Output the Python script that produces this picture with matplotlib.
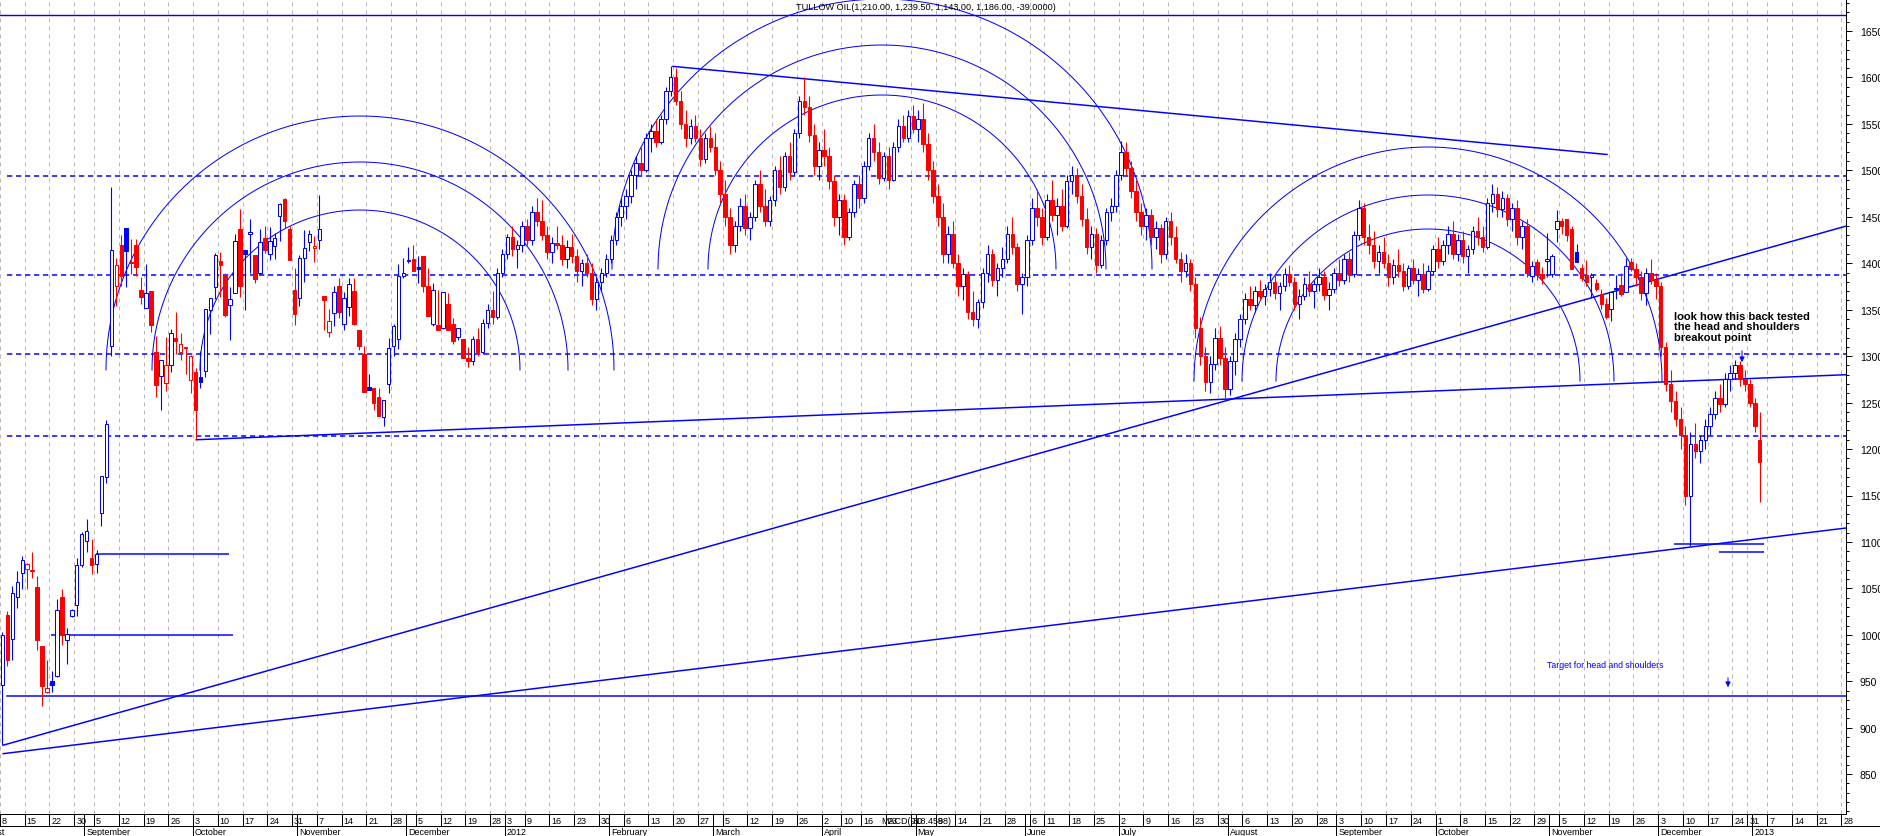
import numpy as np
import pandas as pd
import matplotlib
matplotlib.use("Agg")
import matplotlib.pyplot as plt
from matplotlib.patches import Rectangle
from matplotlib.lines import Line2D
from matplotlib.ticker import MultipleLocator

plt.rcParams['font.family'] = ['Liberation Sans', 'DejaVu Sans']

# ---------------- data (daily OHLC, Tullow Oil, from 8 Aug 2011) ----------------
start_date = '2011-08-08'
uk_holidays = ['2011-08-29', '2011-12-26', '2011-12-27', '2012-01-02', '2012-04-06',
               '2012-04-09', '2012-05-07', '2012-06-04', '2012-06-05', '2012-08-27',
               '2012-12-25', '2012-12-26', '2013-01-01']

opens = [
    946, 1021, 995, 1041, 1067, 1071, 1070, 1052, 988, 939, 950, 956, 1041, 994, 1020, 1032, 1075,   # Aug 11
    1101, 1083, 1076, 1131, 1170, 1311, 1376, 1420, 1438, 1401, 1420, 1371, 1352, 1370, 1305, 1279,
    1271, 1290, 1320, 1304, 1310, 1274,                                                               # Sep
    1283, 1278, 1284, 1350, 1374, 1402, 1387, 1355, 1368, 1437, 1414, 1431, 1409, 1390, 1427, 1410,
    1419, 1451, 1469, 1437, 1371,                                                                     # Oct
    1363, 1406, 1423, 1416, 1425, 1365, 1326, 1346, 1376, 1335, 1353, 1370, 1328, 1302, 1267, 1266,
    1256, 1235, 1270, 1311, 1318, 1386,                                                               # Nov
    1403, 1405, 1396, 1408, 1376, 1335, 1333, 1330, 1356, 1335, 1321, 1318, 1298, 1295, 1318, 1305,
    1336, 1350, 1342, 1390,                                                                           # Dec
    1410, 1428, 1415, 1420, 1440, 1425, 1455, 1445, 1430, 1412, 1422, 1420, 1405, 1418, 1408, 1392,
    1400, 1390, 1362, 1380, 1390,                                                                     # Jan 12
    1405, 1425, 1450, 1462, 1472, 1495, 1508, 1500, 1535, 1542, 1530, 1555, 1585, 1600, 1575, 1550,
    1535, 1548, 1535, 1512, 1535,                                                                     # Feb
    1525, 1500, 1475, 1450, 1420, 1440, 1462, 1438, 1450, 1485, 1462, 1445, 1468, 1500, 1482, 1515,
    1498, 1540, 1575, 1568, 1538, 1505,                                                               # Mar
    1522, 1515, 1488, 1450, 1468, 1428, 1455, 1485, 1470, 1505, 1535, 1520, 1492, 1515, 1490, 1525,
    1548, 1535, 1558,                                                                                 # Apr
    1545, 1555, 1528, 1500, 1472, 1450, 1410, 1432, 1400, 1375, 1388, 1348, 1340, 1358, 1390, 1410,
    1382, 1395, 1405, 1432, 1418, 1378,                                                               # May
    1385, 1425, 1460, 1450, 1428, 1468, 1452, 1462, 1440, 1488, 1495, 1472, 1448, 1418, 1432, 1398,
    1425, 1455, 1462,                                                                                 # Jun
    1495, 1520, 1502, 1478, 1455, 1440, 1452, 1428, 1438, 1410, 1445, 1428, 1405, 1392, 1400, 1378,
    1330, 1300, 1272, 1292, 1320, 1298,                                                               # Jul
    1265, 1295, 1318, 1340, 1362, 1355, 1370, 1365, 1372, 1380, 1368, 1375, 1388, 1380, 1356, 1365,
    1378, 1370, 1378, 1385, 1366, 1372,                                                               # Aug
    1390, 1382, 1405, 1388, 1430, 1460, 1428, 1420, 1402, 1412, 1400, 1385, 1398, 1392, 1375, 1395,
    1382, 1388, 1372, 1392,                                                                           # Sep
    1415, 1402, 1420, 1432, 1410, 1425, 1408, 1415, 1435, 1428, 1418, 1465, 1475, 1458, 1470, 1448,
    1460, 1428, 1440, 1386, 1401, 1388, 1402,                                                         # Oct
    1388, 1437, 1445, 1448, 1437, 1412, 1395, 1387, 1385, 1379, 1367, 1356, 1351, 1372, 1377, 1369,
    1401, 1394, 1385, 1368, 1390, 1382,                                                               # Nov
    1375, 1310, 1270, 1252, 1232, 1215, 1150, 1205, 1198, 1210, 1225, 1238, 1255, 1248, 1275, 1282,
    1290, 1275, 1270,                                                                                 # Dec
    1250, 1210,                                                                                       # Jan 13
]
highs = [
    1003, 1026, 1053, 1069, 1085, 1077, 1089, 1063, 988, 973, 961, 1039, 1049, 1007, 1028, 1083, 1111,
    1125, 1103, 1091, 1171, 1231, 1482, 1406, 1430, 1438, 1426, 1426, 1385, 1399, 1370, 1322, 1296,
    1321, 1329, 1348, 1325, 1310, 1301,
    1287, 1306, 1351, 1363, 1411, 1412, 1390, 1374, 1431, 1458, 1414, 1448, 1409, 1437, 1440, 1439,
    1433, 1465, 1470, 1440, 1395,
    1409, 1436, 1436, 1429, 1473, 1365, 1351, 1375, 1384, 1369, 1384, 1384, 1328, 1311, 1281, 1266,
    1266, 1253, 1319, 1335, 1399, 1406,
    1417, 1420, 1408, 1408, 1395, 1379, 1371, 1369, 1368, 1341, 1330, 1318, 1310, 1322, 1330, 1340,
    1356, 1370, 1395, 1415,
    1432, 1440, 1425, 1445, 1448, 1462, 1470, 1468, 1440, 1428, 1440, 1430, 1425, 1432, 1415, 1405,
    1410, 1400, 1385, 1395, 1410,
    1430, 1455, 1470, 1480, 1500, 1515, 1525, 1540, 1550, 1555, 1560, 1590, 1612, 1610, 1585, 1565,
    1555, 1560, 1545, 1540, 1548,
    1540, 1510, 1490, 1460, 1445, 1470, 1475, 1455, 1490, 1500, 1480, 1472, 1505, 1515, 1520, 1530,
    1545, 1580, 1600, 1580, 1550, 1530,
    1545, 1525, 1495, 1475, 1475, 1460, 1490, 1495, 1510, 1540, 1550, 1530, 1520, 1525, 1530, 1555,
    1560, 1565, 1570,
    1565, 1572, 1540, 1510, 1485, 1465, 1440, 1445, 1410, 1395, 1392, 1370, 1362, 1395, 1420, 1415,
    1400, 1418, 1440, 1450, 1422, 1390,
    1430, 1470, 1480, 1460, 1475, 1490, 1470, 1480, 1495, 1505, 1502, 1485, 1460, 1440, 1438, 1430,
    1460, 1470, 1500,
    1532, 1530, 1510, 1490, 1465, 1460, 1458, 1445, 1442, 1450, 1455, 1440, 1412, 1410, 1405, 1385,
    1342, 1310, 1300, 1330, 1332, 1310,
    1300, 1325, 1345, 1368, 1375, 1375, 1382, 1378, 1390, 1388, 1380, 1395, 1398, 1385, 1372, 1385,
    1392, 1382, 1395, 1392, 1380, 1395,
    1405, 1410, 1412, 1435, 1468, 1465, 1442, 1435, 1420, 1428, 1410, 1405, 1415, 1400, 1398, 1405,
    1395, 1400, 1398, 1420,
    1428, 1425, 1440, 1445, 1432, 1435, 1420, 1440, 1450, 1440, 1470, 1485, 1482, 1478, 1475, 1465,
    1468, 1445, 1448, 1402, 1405, 1396, 1433,
    1410, 1457, 1449, 1448, 1440, 1421, 1399, 1403, 1390, 1383, 1372, 1363, 1370, 1387, 1390, 1406,
    1406, 1400, 1392, 1395, 1405, 1390,
    1380, 1315, 1285, 1262, 1245, 1225, 1218, 1228, 1215, 1232, 1245, 1262, 1270, 1282, 1290, 1296,
    1295, 1285, 1275,
    1255, 1239.5,
]
lows = [
    881, 967, 973, 1029, 1049, 1049, 1061, 984, 923, 937, 939, 955, 989, 969, 1019, 1020, 1073,
    1089, 1065, 1067, 1117, 1163, 1300, 1354, 1376, 1374, 1388, 1386, 1356, 1352, 1326, 1256, 1242,
    1263, 1283, 1302, 1296, 1281, 1260,
    1210, 1266, 1278, 1324, 1362, 1364, 1342, 1317, 1368, 1364, 1350, 1390, 1379, 1387, 1411, 1404,
    1405, 1424, 1438, 1404, 1334,
    1354, 1380, 1413, 1401, 1415, 1328, 1321, 1332, 1341, 1328, 1343, 1333, 1307, 1261, 1264, 1242,
    1236, 1225, 1260, 1300, 1308, 1384,
    1400, 1392, 1379, 1369, 1343, 1332, 1328, 1329, 1328, 1313, 1317, 1298, 1288, 1290, 1300, 1302,
    1330, 1335, 1340, 1385,
    1405, 1408, 1395, 1412, 1420, 1420, 1440, 1425, 1405, 1400, 1415, 1398, 1395, 1400, 1380, 1375,
    1385, 1355, 1350, 1370, 1385,
    1400, 1420, 1440, 1448, 1465, 1480, 1495, 1498, 1520, 1525, 1528, 1550, 1580, 1570, 1545, 1525,
    1528, 1530, 1505, 1508, 1520,
    1495, 1465, 1440, 1410, 1412, 1435, 1430, 1425, 1445, 1455, 1440, 1440, 1462, 1475, 1478, 1490,
    1495, 1535, 1560, 1530, 1495, 1490,
    1505, 1480, 1440, 1430, 1420, 1425, 1450, 1460, 1465, 1500, 1510, 1485, 1488, 1480, 1488, 1520,
    1530, 1530, 1540,
    1530, 1520, 1490, 1465, 1440, 1400, 1400, 1395, 1365, 1360, 1340, 1332, 1330, 1352, 1380, 1375,
    1365, 1385, 1400, 1410, 1370, 1345,
    1375, 1420, 1440, 1420, 1425, 1445, 1430, 1435, 1438, 1475, 1465, 1440, 1410, 1405, 1390, 1395,
    1420, 1445, 1455,
    1490, 1495, 1470, 1445, 1430, 1425, 1420, 1415, 1400, 1405, 1420, 1400, 1380, 1385, 1370, 1320,
    1290, 1262, 1260, 1285, 1290, 1255,
    1258, 1280, 1310, 1335, 1350, 1348, 1360, 1355, 1365, 1362, 1350, 1370, 1375, 1350, 1340, 1360,
    1365, 1352, 1370, 1360, 1350, 1368,
    1375, 1378, 1380, 1385, 1425, 1420, 1410, 1395, 1390, 1395, 1375, 1378, 1385, 1370, 1372, 1378,
    1365, 1368, 1370, 1388,
    1395, 1398, 1410, 1405, 1402, 1400, 1390, 1410, 1420, 1412, 1415, 1455, 1450, 1450, 1440, 1435,
    1420, 1415, 1385, 1380, 1382, 1378, 1385,
    1385, 1423, 1431, 1424, 1394, 1401, 1381, 1376, 1363, 1370, 1351, 1340, 1338, 1361, 1365, 1369,
    1392, 1375, 1360, 1355, 1378, 1362,
    1300, 1262, 1240, 1225, 1200, 1140, 1096, 1190, 1185, 1200, 1215, 1232, 1240, 1245, 1262, 1275,
    1268, 1262, 1245,
    1218, 1143,
]
closes = [
    1000, 973, 1045, 1057, 1081, 1076, 1069, 994, 945, 943, 946, 1027, 1000, 1001, 1027, 1075, 1109,
    1112, 1075, 1087, 1171, 1227, 1414, 1398, 1386, 1413, 1400, 1396, 1364, 1368, 1334, 1269, 1296,
    1290, 1325, 1316, 1313, 1309, 1300,
    1242, 1272, 1351, 1363, 1409, 1398, 1344, 1362, 1424, 1375, 1410, 1434, 1383, 1423, 1414, 1424,
    1427, 1464, 1446, 1404, 1345,
    1406, 1416, 1431, 1419, 1437, 1360, 1338, 1369, 1347, 1363, 1378, 1335, 1311, 1261, 1264, 1250,
    1236, 1253, 1309, 1332, 1386, 1389,
    1402, 1392, 1394, 1376, 1343, 1371, 1328, 1369, 1328, 1316, 1330, 1298, 1295, 1318, 1305, 1336,
    1350, 1342, 1390, 1410,
    1428, 1415, 1420, 1440, 1425, 1455, 1445, 1430, 1412, 1422, 1420, 1405, 1418, 1408, 1392, 1400,
    1390, 1362, 1380, 1390, 1405,
    1425, 1450, 1462, 1472, 1495, 1508, 1500, 1535, 1542, 1530, 1555, 1585, 1600, 1575, 1550, 1535,
    1548, 1535, 1512, 1535, 1525,
    1500, 1475, 1450, 1420, 1440, 1462, 1438, 1450, 1485, 1462, 1445, 1468, 1500, 1482, 1515, 1498,
    1540, 1575, 1568, 1538, 1505, 1522,
    1515, 1488, 1450, 1468, 1428, 1455, 1485, 1470, 1505, 1535, 1520, 1492, 1515, 1490, 1525, 1548,
    1535, 1558, 1545,
    1555, 1528, 1500, 1472, 1450, 1410, 1432, 1400, 1375, 1388, 1348, 1340, 1358, 1390, 1410, 1382,
    1395, 1405, 1432, 1418, 1378, 1385,
    1425, 1460, 1450, 1428, 1468, 1452, 1462, 1440, 1488, 1495, 1472, 1448, 1418, 1432, 1398, 1425,
    1455, 1462, 1495,
    1520, 1502, 1478, 1455, 1440, 1452, 1428, 1438, 1410, 1445, 1428, 1405, 1392, 1400, 1378, 1330,
    1300, 1272, 1292, 1320, 1298, 1265,
    1295, 1318, 1340, 1362, 1355, 1370, 1365, 1372, 1380, 1368, 1375, 1388, 1380, 1356, 1365, 1378,
    1370, 1378, 1385, 1366, 1372, 1390,
    1382, 1405, 1388, 1430, 1460, 1428, 1420, 1402, 1412, 1400, 1385, 1398, 1392, 1375, 1395, 1382,
    1388, 1372, 1392, 1415,
    1402, 1420, 1432, 1410, 1425, 1408, 1415, 1435, 1428, 1418, 1465, 1475, 1458, 1470, 1448, 1460,
    1428, 1440, 1390, 1397, 1387, 1384, 1405,
    1408, 1445, 1440, 1430, 1394, 1401, 1384, 1380, 1387, 1372, 1356, 1342, 1369, 1373, 1367, 1397,
    1394, 1385, 1368, 1390, 1382, 1375,
    1310, 1270, 1252, 1232, 1215, 1150, 1205, 1198, 1210, 1225, 1238, 1255, 1248, 1275, 1282, 1290,
    1275, 1270, 1250,
    1225, 1186,
]

price_ticks = list(range(850, 1651, 50))
title_text = 'TULLOW OIL(1,210.00, 1,239.50, 1,143.00, 1,186.00, -39.0000)'
note_text = 'look how this back tested\nthe head and shoulders\nbreakout point'
target_text = 'Target for head and shoulders'
macd_text = 'MACD(918.4598)'

# horizontal study lines (price levels)
top_level = 1667
dashed_levels = [1494, 1387, 1302, 1214]
target_level = 934

# ---------------- layout helpers ----------------
W, H = 1881, 837
SLOT = 4.95            # px per trading day
AX_BOTTOM_PX = 815
AX_RIGHT_PX = 1846
PX_PER_PRICE = 0.929
Y1650 = 32.0


def p_of_y(y):
    return 1650 - (y - Y1650) / PX_PER_PRICE


def i_of_x(x):
    return x / SLOT - 0.5


n = len(closes)
days = pd.bdate_range(start_date, '2013-02-15')
days = days[~days.isin(pd.to_datetime(uk_holidays))]

fig = plt.figure(figsize=(W / 100, H / 100), dpi=100)
fig.patch.set_facecolor('white')
ax = fig.add_axes([0, (H - AX_BOTTOM_PX) / H, AX_RIGHT_PX / W, AX_BOTTOM_PX / H])
xmax = i_of_x(AX_RIGHT_PX)
ax.set_xlim(-0.5, xmax)
ax.set_ylim(p_of_y(AX_BOTTOM_PX), p_of_y(0))

BLUE = '#0000ff'
RED = '#ff0000'
PX = 0.72  # one pixel in points

# weekly grid
nd = int(np.ceil(xmax)) + 1
week_starts = [i for i in range(nd) if i == 0 or days[i].isocalendar()[1] != days[i - 1].isocalendar()[1]]
month_starts = [i for i in range(1, nd) if days[i].month != days[i - 1].month]
for i in week_starts:
    ax.axvline(i - 0.5, color='#b8b8b8', lw=PX, ls=(0, (4, 4)), zorder=0)

# study lines
ax.axhline(top_level, color=BLUE, lw=1.4 * PX, zorder=2)
for lv in dashed_levels:
    ax.plot([1.0, xmax], [lv, lv], color=BLUE, lw=1.5 * PX, ls=(0, (3.5, 2.5)), zorder=2)
ax.plot([1.0, xmax], [target_level, target_level], color=BLUE, lw=1.5 * PX, zorder=2)
seg_lines = [
    ((18.8, 1087), (45.7, 1087)),
    ((9.8, 1000), (46.6, 1000)),
    ((39, 1210), (xmax, 1280)),
    ((0, 881), (xmax, 1440)),
    ((0, 872), (xmax, 1115)),
    ((135.3, 1612), (324.3, 1517)),
    ((337.7, 1098), (355.9, 1098)),
    ((346.7, 1089), (355.9, 1089)),
]
for (x0, y0), (x1, y1) in seg_lines:
    ax.plot([x0, x1], [y0, y1], color=BLUE, lw=1.5 * PX, zorder=2, solid_capstyle='butt')

# arcs (screen-space semicircles: centre px, radius px)
arc_groups = [((360, 371), [254, 208, 160]),
              ((882, 270), [270, 224, 174]),
              ((1428, 382), [234, 186, 152])]
th = np.linspace(0, np.pi, 400)
for (cx, cy), radii in arc_groups:
    for r in radii:
        xs = i_of_x(cx + r * np.cos(th))
        ys = p_of_y(cy - r * np.sin(th))
        ax.plot(xs, ys, color=BLUE, lw=1.0 * PX, zorder=2)

# candles
bw = 0.7
for i in range(n):
    o, h, l, c = opens[i], highs[i], lows[i], closes[i]
    prev = closes[i - 1] if i > 0 else o
    col = BLUE if c >= prev else RED
    lo, hi = min(o, c), max(o, c)
    if hi - lo < 1.2:
        hi = lo + 1.2
    ax.plot([i, i], [l, h], color=col, lw=1.1 * PX, zorder=3, solid_capstyle='butt')
    filled = c < o
    ax.add_patch(Rectangle((i - bw / 2, lo), bw, hi - lo,
                           facecolor=col if filled else 'white', edgecolor=col,
                           lw=1.0 * PX, zorder=4))

# right price axis
ax.yaxis.tick_right()
ax.set_yticks(price_ticks)
ax.yaxis.set_minor_locator(MultipleLocator(10))
ax.tick_params(axis='y', which='major', length=4, width=PX, pad=6, labelsize=7.5, colors='black')
ax.tick_params(axis='y', which='minor', length=2, width=PX)
ax.set_xticks([])
for s in ['top', 'left']:
    ax.spines[s].set_visible(False)
ax.spines['bottom'].set_linewidth(PX)
ax.spines['right'].set_linewidth(PX)

# texts inside chart
ax.text(i_of_x(796), p_of_y(7), title_text, fontsize=6.6, ha='left', va='center', color='black')
ax.text(i_of_x(1674), p_of_y(312), note_text, fontsize=8, fontweight='bold', ha='left', va='top',
        color='black', linespacing=1.05)
ax.text(i_of_x(1547), p_of_y(666), target_text, fontsize=6.3, ha='left', va='center', color=BLUE)
ax.annotate('', xy=(i_of_x(1742), p_of_y(366)), xytext=(i_of_x(1742), p_of_y(349)),
            arrowprops=dict(arrowstyle='-|>,head_width=0.15,head_length=0.3', color=BLUE, lw=PX))
ax.annotate('', xy=(i_of_x(1728), p_of_y(691)), xytext=(i_of_x(1728), p_of_y(676)),
            arrowprops=dict(arrowstyle='-|>,head_width=0.15,head_length=0.3', color=BLUE, lw=PX))

# bottom two-row date scale


def fx(px):
    return px / W


def fy(py):
    return 1 - py / H


row_mid = 827
fig.add_artist(Line2D([0, fx(AX_RIGHT_PX + 35)], [fy(row_mid), fy(row_mid)], color='black', lw=PX))
for i in week_starts:
    xp = SLOT * i
    if xp > AX_RIGHT_PX:
        continue
    fig.add_artist(Line2D([fx(xp), fx(xp)], [fy(AX_BOTTOM_PX), fy(row_mid)], color='black', lw=PX))
    fig.text(fx(xp + 2), fy(821.5), str(days[i].day), fontsize=6.5, ha='left', va='center')
month_pos = [-5] + month_starts
for i in month_pos:
    xp = SLOT * i
    if xp > AX_RIGHT_PX:
        continue
    d = days[i] if i >= 0 else pd.Timestamp('2011-08-01')
    lab = str(d.year) if d.month == 1 else d.strftime('%B')
    fig.add_artist(Line2D([fx(xp), fx(xp)], [fy(AX_BOTTOM_PX), fy(H)], color='black', lw=PX))
    fig.text(fx(xp + 2), fy(832.5), lab, fontsize=6.5, ha='left', va='center')
fig.text(fx(881), fy(821.5), macd_text, fontsize=6.5, ha='left', va='center')

fig.savefig('out.png', dpi=100)
